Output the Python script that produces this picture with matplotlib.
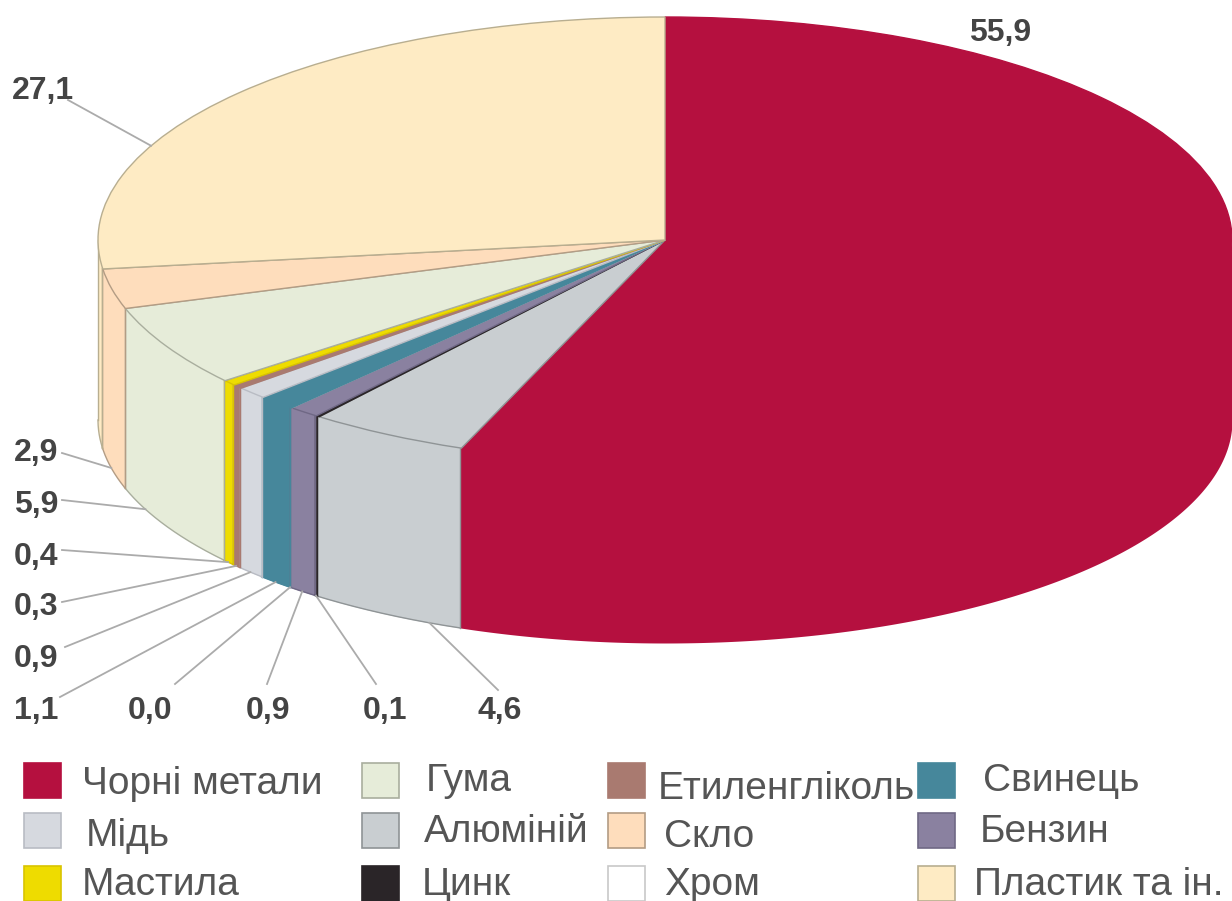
import numpy as np
import matplotlib
matplotlib.use("Agg")
import matplotlib.pyplot as plt
from matplotlib.patches import Rectangle

plt.rcParams["font.family"] = ["Liberation Sans", "DejaVu Sans"]

# Composition of the vehicle by material, clockwise from twelve o'clock
materials = ["Чорні метали", "Алюміній", "Цинк", "Бензин", "Хром", "Свинець",
             "Мідь", "Етиленгліколь", "Мастила", "Гума", "Скло", "Пластик та ін."]
shares = [55.9, 4.6, 0.1, 0.9, 0.0, 1.1, 0.9, 0.3, 0.4, 5.9, 2.9, 27.1]
share_labels = ["55,9", "4,6", "0,1", "0,9", "0,0", "1,1", "0,9", "0,3", "0,4", "5,9", "2,9", "27,1"]
colors = ["#B5103F", "#C9CED1", "#2A2528", "#8A81A0", "#FFFFFF", "#46879B",
          "#D6D9DF", "#A97A70", "#EEDC00", "#E6ECD9", "#FEDDBC", "#FEEBC4"]
rims = ["#B5103F", "#8F9496", "#2A2528", "#6F6885", "#C8C8C8", "#46879B",
        "#B9BCC4", "#A97A70", "#D9C400", "#A9AE9E", "#B39C84", "#B8AE90"]

# Layout of the flattened disc, in pixels
W, H = 1232, 901
CX, CY, RX, RY, DEPTH = 665, 240, 567, 223, 180

# Where each leader meets its slice, and where its label sits
leader_frac = [None, 0.2, 0.5, 0.5, 0.5, 0.5, 0.5, 0.5, 0.5, 0.72, 0.5, 0.33]
label_pos = [(1000, 29), (500, 708), (385, 708), (268, 708), (150, 708), (36, 708),
             (36, 656), (36, 603), (36, 553), (36, 501), (36, 450), (43, 87)]
leader_start = [None, (498, 690), (376, 684), (267, 684), (175, 684), (60, 697),
                (65, 647), (62, 602), (62, 550), (62, 500), (62, 453), (68, 100)]

# Legend layout: swatch x, swatch y, text x and text y for each material
legend = {
    "Чорні метали": (24, 763, 82, 780), "Гума": (362, 763, 426, 777),
    "Етиленгліколь": (608, 763, 658, 785), "Свинець": (918, 763, 983, 777),
    "Мідь": (24, 813, 86, 832), "Алюміній": (362, 813, 424, 828),
    "Скло": (608, 813, 664, 833), "Бензин": (918, 813, 980, 828),
    "Мастила": (24, 866, 82, 881), "Цинк": (362, 866, 422, 881),
    "Хром": (608, 866, 664, 881), "Пластик та ін.": (918, 866, 974, 881),
}

fig = plt.figure(figsize=(W / 100, H / 100), dpi=100, facecolor="white")
ax = fig.add_axes([0, 0, 1, 1])

wedges, _ = ax.pie(shares, colors=colors, startangle=90, counterclock=False,
                   radius=1, center=(0, 0),
                   wedgeprops=dict(linewidth=1.0, zorder=3))
for w, rim in zip(wedges, rims):
    w.set_edgecolor(rim)

# Unit disc squeezed into an ellipse by unequal axis scales
ax.set_aspect("auto")
ax.set_xlim(-CX / RX, (W - CX) / RX)
ax.set_ylim((CY - H) / RY, CY / RY)
depth = DEPTH / RY

# Cylinder wall along the front half of the disc; it runs a little way
# under the top face so no seam shows between the two
edges = np.concatenate([[0], np.cumsum(shares)]) * 3.6
overlap = 0.02
for k, (a0, a1, color, rim) in enumerate(zip(edges[:-1], edges[1:], colors, rims)):
    lo, hi = max(a0, 90), min(a1, 270)
    if hi <= lo:
        continue
    t = np.radians(np.linspace(lo, hi, 200))
    x, y = np.sin(t), np.cos(t)
    ax.fill_between(x, y + overlap * (y < 0), y - depth, color=color, linewidth=0, zorder=1)
    if k == 0:
        continue
    ax.plot(x, y - depth, color=rim, lw=1.0, zorder=2)
    ax.plot([x[0], x[0]], [y[0], y[0] - depth], color=rim, lw=1.0, zorder=2)
    ax.plot([x[-1], x[-1]], [y[-1], y[-1] - depth], color=rim, lw=1.0, zorder=2)

# Pixel-based overlay for labels, leaders and legend
ov = fig.add_axes([0, 0, 1, 1], facecolor="none")
ov.set_xlim(0, W)
ov.set_ylim(H, 0)
ov.axis("off")

for i, (txt, pos) in enumerate(zip(share_labels, label_pos)):
    ov.text(pos[0], pos[1], txt, fontsize=23, fontweight="bold", color="#444444",
            ha="center", va="center_baseline")
    if leader_frac[i] is None:
        continue
    ang = np.radians(edges[i] + leader_frac[i] * (edges[i + 1] - edges[i]))
    px = CX + RX * np.sin(ang)
    py = CY - RY * np.cos(ang)
    if np.cos(ang) < 0:
        py += DEPTH
    ov.plot([leader_start[i][0], px], [leader_start[i][1], py], color="#ABABAB", lw=1.3)

for name, color, rim in zip(materials, colors, rims):
    sx, sy, tx, ty = legend[name]
    ov.add_patch(Rectangle((sx, sy), 37, 35, facecolor=color, edgecolor=rim, lw=1.2))
    ov.text(tx, ty, name, fontsize=28, color="#555555", ha="left", va="center_baseline")

fig.savefig("out.png", dpi=100)
